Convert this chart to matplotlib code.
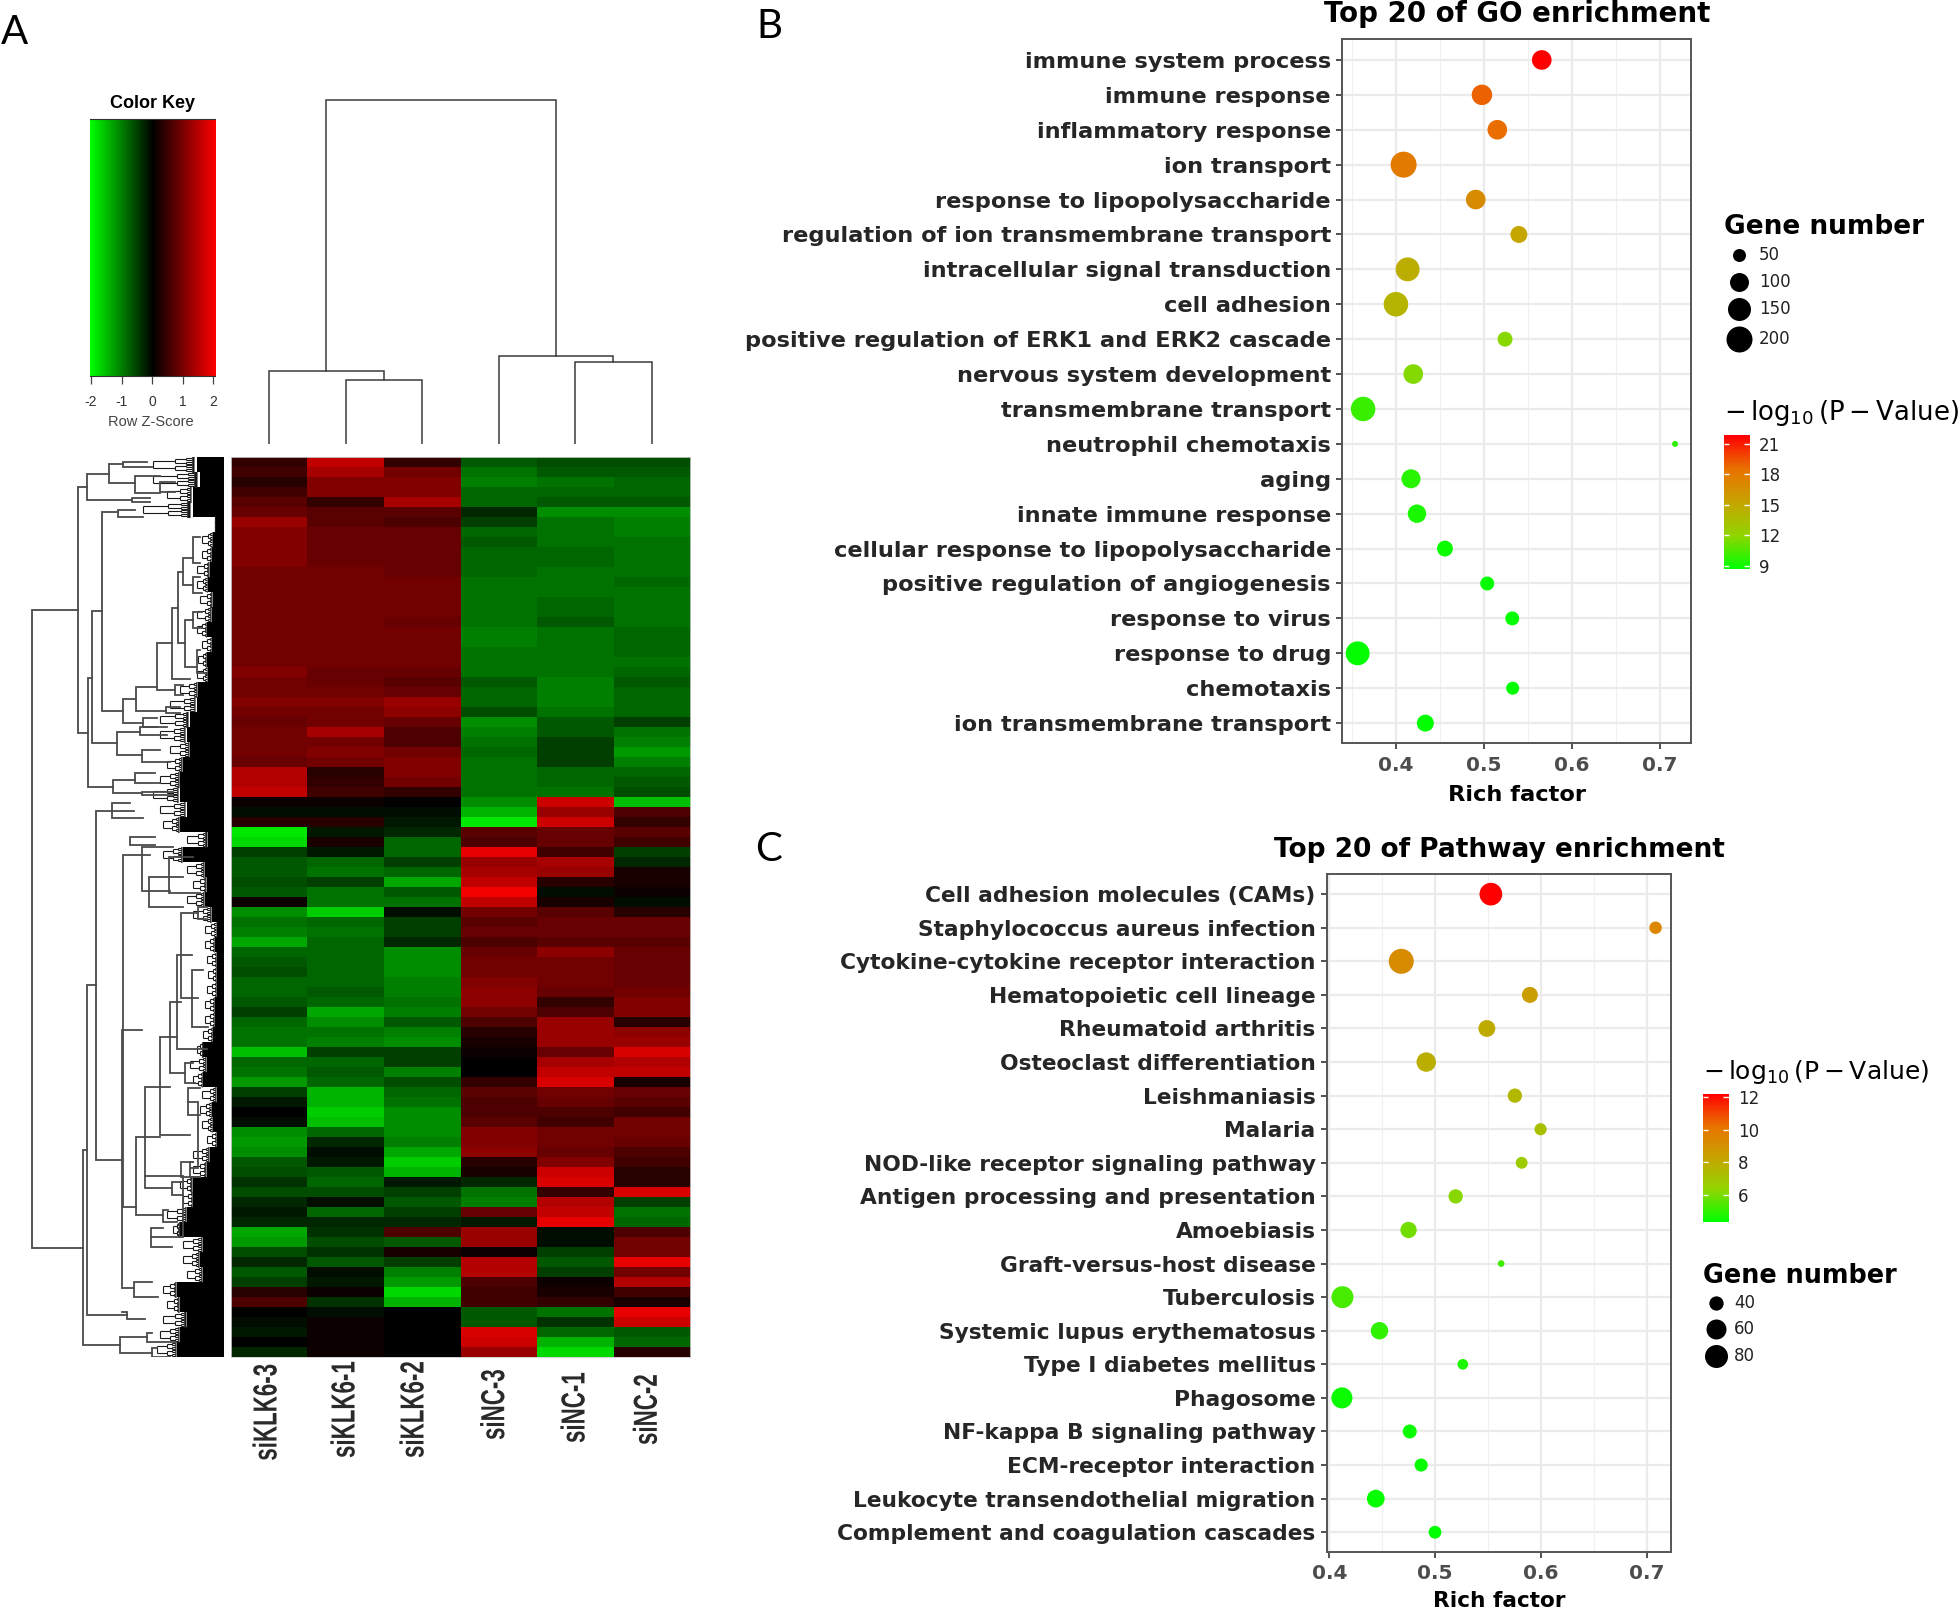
import numpy as np
import matplotlib
matplotlib.use('Agg')
import matplotlib.pyplot as plt
from matplotlib.colors import LinearSegmentedColormap, Normalize
from matplotlib.cm import ScalarMappable
from matplotlib.collections import LineCollection
from matplotlib.patheffects import AbstractPathEffect
from matplotlib.transforms import Affine2D

W, H = 1960, 1610

# heatmap, z-score x 10, one list per sample, 90 bands top to bottom
samples = ['siKLK6-3', 'siKLK6-1', 'siKLK6-2', 'siNC-3', 'siNC-1', 'siNC-2']
klk3 = [4,5,3,5,7,8,12,10,10,10,10,9,9,9,9,9,9,9,9,9,9,10,9,9,10,9,8,9,9,9,8,14,14,15,1,-1,3,-18,-17,-5,-7,-7,-6,-7,1,
        -11,-9,-10,-13,-8,-7,-6,-8,-8,-7,-5,-8,-9,-9,-15,-8,-9,-12,-5,-2,0,-1,-11,-12,-11,-7,-6,-4,-6,-3,-2,-3,-13,-12,-6,-3,-7,-5,3,6,0,-1,-2,0,-3]
klk1 = [15,13,10,10,4,7,7,8,8,8,8,9,9,9,9,9,9,9,9,9,9,8,8,9,10,9,9,13,9,10,9,3,4,5,1,-1,3,-2,2,-2,-8,-9,-5,-9,-9,
        -16,-8,-9,-8,-8,-8,-8,-8,-7,-8,-13,-11,-9,-10,-5,-8,-7,-8,-14,-14,-16,-15,-8,-3,-1,-2,-7,-8,-6,-1,-8,-3,-4,-6,-4,-7,-1,-2,1,-4,-1,1,1,1,1]
klk2 = [4,9,10,10,13,7,6,8,8,8,8,8,9,9,9,9,8,9,9,9,9,8,7,8,12,11,8,6,6,9,10,10,9,4,0,-1,-2,-3,-8,-8,-5,-8,-13,-7,-9,
        -1,-5,-5,-3,-11,-11,-11,-10,-10,-9,-10,-7,-10,-11,-5,-5,-10,-6,-8,-9,-11,-11,-11,-10,-13,-16,-14,-2,-5,-7,-5,-3,6,-7,2,-5,-10,-12,-17,-14,0,0,0,0,0]
nc3 = [-7,-9,-10,-8,-8,-3,-5,-8,-7,-8,-8,-8,-9,-9,-9,-9,-9,-10,-10,-9,-9,-9,-7,-8,-8,-6,-11,-10,-9,-8,-9,-9,-9,-9,-11,-14,-18,7,6,18,12,13,15,19,15,
       9,7,8,6,8,9,9,10,11,11,9,6,3,2,1,0,0,4,7,6,6,7,10,10,11,3,2,-3,-9,-10,8,-2,12,12,1,14,14,6,5,5,-7,-7,17,16,12]
nc1 = [-6,-7,-9,-8,-7,-11,-9,-9,-9,-8,-8,-9,-9,-9,-8,-8,-7,-9,-9,-9,-9,-9,-10,-10,-10,-9,-7,-7,-5,-5,-5,-8,-8,-9,16,12,16,8,8,5,13,12,3,-1,2,
       7,8,8,7,11,9,9,9,8,4,6,12,12,12,8,13,15,17,9,8,6,5,9,9,8,10,16,17,4,14,15,18,-1,-1,-5,-7,-5,1,2,4,-9,-4,-8,-14,-17]
nc2 = [-6,-7,-8,-8,-7,-11,-10,-10,-9,-9,-9,-9,-8,-9,-9,-9,-9,-8,-8,-8,-9,-8,-7,-8,-8,-8,-5,-9,-10,-12,-10,-8,-7,-6,-15,6,4,7,5,-5,-3,2,2,1,-1,
       3,8,8,7,8,8,8,8,9,10,10,3,11,12,17,14,15,2,8,7,5,9,9,8,6,5,3,3,17,-5,-9,-8,6,9,9,18,9,14,5,2,18,16,-7,-8,3]

# column dendrogram, merges (left, right, height), new ids start at 6
col_left = [1, 0, 4, 3, 7]
col_right = [2, 6, 5, 8, 9]
col_height = [64, 73, 82, 88, 344]

# row dendrogram, height / top row / bottom row / height of top child / height of bottom child
row_h = [191.7,145.7,140.7,137.3,135.7,132.3,110.7,121.7,107.3,100.7,88,66.7,51.7,45.7,40.7,39,31.3,31.3,31.3,27.3,115,100.7,89,64,92.3,106.3,84,82.3,89,82.3,49,58.3,80.7,
         136.7,104,128,97.3,112.3,102.3,100.7,94,82.3,74.7,54.7,40.7,88.3,79,64,54,46.7,43,32.3,25.7,43,35.7,34,39,52.3,61.3,73,90,77.3,72.3,25.7]
row_top = [153,30,693,17,221,154,323,55,275,242,230,186,151,115,101,163,80,120,155,193,7,5,19,25,41,53,270,293,316,335,228,250,261,
           528,880,354,855,346,573,398,380,390,420,400,719,680,630,580,545,498,456,513,645,705,631,705,606,725,753,771,825,876,891,450]
row_bot = [791,276,888,43,330,286,336,254,298,266,254,233,222,186,128,210,106,136,171,216,26,10,36,35,45,60,278,305,326,338,238,256,270,
           858,896,703,862,361,831,750,388,434,450,436,780,758,731,678,616,592,541,570,711,720,658,720,626,738,765,790,840,885,900,462]
row_ctop = [146,137,137,115,132,122,89,106,84,89,66.7,52,46,41,31,31,24,24,22,24,101,77,64,49,74,89,57,64,69,51,41,44,67,
            128,77,90,102,94,82,74,69,51,41,31,79,64,54,47,43,32,26,21,36,31,24,31,31,41,56,61,72,72,67,17]
row_cbot = [141,136,104,92,111,107,82,101,82,81,58,49,34,39,31,27,24,22,22,17,89,72,64,49,74,81,57,54,64,51,41,44,67,
            97,72,102,79,81,90,88,69,54,41,24,73,61,52,34,39,17,26,16,34,24,24,24,29,41,47,52,66,49,54,17]

# extent of the dense leaf mass in 15 row steps
leaf_black = [27,24,31,31,9,11,12,14,16,11,12,17,12,17,16,26,27,34,37,34,41,44,44,37,44,16,41,19,17,19,12,7,9,7,7,7,9,9,11,21,17,21,7,12,11,7,14,17,31,31,37,44,21,24,21,47,44,37,44,47]
leaf_grey = [71,71,57,81,9,22,22,27,27,24,27,27,22,26,27,44,54,64,64,54,57,64,71,64,61,37,61,37,31,37,31,19,19,17,16,17,19,19,21,27,34,31,22,24,22,17,31,31,44,41,57,51,41,41,37,61,57,61,64,67]

# GO panel
go_terms = ['immune system process', 'immune response', 'inflammatory response', 'ion transport',
            'response to lipopolysaccharide', 'regulation of ion transmembrane transport',
            'intracellular signal transduction', 'cell adhesion', 'positive regulation of ERK1 and ERK2 cascade',
            'nervous system development', 'transmembrane transport', 'neutrophil chemotaxis', 'aging',
            'innate immune response', 'cellular response to lipopolysaccharide',
            'positive regulation of angiogenesis', 'response to virus', 'response to drug', 'chemotaxis',
            'ion transmembrane transport']
go_rich = [0.566,0.498,0.5155,0.409,0.491,0.540,0.4136,0.4003,0.5243,0.420,0.363,0.7175,0.4174,0.4242,0.456,0.504,0.5325,0.3568,0.533,0.4337]
go_genes = [108,118,108,200,108,83,165,175,66,108,175,10,100,95,74,58,58,165,50,83]
go_logp = [21.83,19,18.7,18,16.9,15.2,14.6,14.2,11.8,11.7,10,9.8,9.6,9.3,9,8.8,8.8,8.8,8.7,8.7]
go_size_genes = [10, 50, 100, 150, 200]
go_size_px = [6, 13, 19, 23, 26]
go_legend_genes = [50, 100, 150, 200]
go_cbar_ticks = [9, 12, 15, 18, 21]
go_range = (8.7, 21.83)

# pathway panel
kegg_terms = ['Cell adhesion molecules (CAMs)', 'Staphylococcus aureus infection',
              'Cytokine-cytokine receptor interaction', 'Hematopoietic cell lineage', 'Rheumatoid arthritis',
              'Osteoclast differentiation', 'Leishmaniasis', 'Malaria', 'NOD-like receptor signaling pathway',
              'Antigen processing and presentation', 'Amoebiasis', 'Graft-versus-host disease', 'Tuberculosis',
              'Systemic lupus erythematosus', 'Type I diabetes mellitus', 'Phagosome', 'NF-kappa B signaling pathway',
              'ECM-receptor interaction', 'Leukocyte transendothelial migration', 'Complement and coagulation cascades']
kegg_rich = [0.5526,0.7083,0.4679,0.5895,0.5488,0.4915,0.5753,0.5996,0.5817,0.5193,0.4748,0.5623,0.4123,0.4473,0.5261,0.4118,0.4759,0.4867,0.4438,0.4998]
kegg_genes = [78,34,95,46,49,58,40,33,32,40,47,15,73,51,28,67,39,36,52,35]
kegg_logp = [12.19,9.4,9.2,8.5,8.0,7.8,7.5,7.2,6.7,6.2,5.9,5.2,5.3,5,4.7,4.5,4.45,4.4,4.4,4.35]
kegg_size_genes = [15, 40, 60, 80, 95]
kegg_size_px = [6.7, 14.3, 20, 23, 25]
kegg_legend_genes = [40, 60, 80]
kegg_cbar_ticks = [6, 8, 10, 12]
kegg_range = (4.33, 12.19)

rich_ticks = [0.4, 0.5, 0.6, 0.7]
rich_minor = [0.45, 0.55, 0.65]

heat_cmap = LinearSegmentedColormap.from_list('gkr', ['#00ff00', '#000000', '#ff0000'])
enrich_cmap = LinearSegmentedColormap.from_list('gr', ['#00ff00', '#91d500', '#c6a400', '#e97200', '#ff0000'])

NARROW = ['Liberation Sans Narrow', 'Liberation Sans', 'DejaVu Sans']
fig = plt.figure(figsize=(W / 100, H / 100), dpi=100, facecolor='white')


class Squeeze(AbstractPathEffect):
    # condensed look for the sample names, the text stays text
    def __init__(self, sx):
        super().__init__()
        self.sx = sx

    def draw_path(self, renderer, gc, tpath, affine, rgbFace=None):
        renderer.draw_path(gc, tpath, Affine2D().scale(self.sx, 1) + affine, rgbFace)


def add_ax(x0, y0, x1, y1):
    return fig.add_axes([x0 / W, 1 - y1 / H, (x1 - x0) / W, (y1 - y0) / H])


def txt(x, y, s, **kw):
    kw.setdefault('va', 'center')
    kw.setdefault('ha', 'left')
    return fig.text(x / W, 1 - y / H, s, **kw)


def px_area(d):
    return (np.asarray(d) * 0.72) ** 2


def leaf_brackets(r0, r1, h0, h1, depth, out):
    # dense tips of the row tree, split between the two read extents
    mid = (r0 + r1) / 2
    top = r0 + (r1 - r0) / 4
    bot = r1 - (r1 - r0) / 4
    next_h = h0 + (h1 - h0) / 2
    out.append([(h0, top), (h0, bot)])
    out.append([(h0, top), (next_h, top)])
    out.append([(h0, bot), (next_h, bot)])
    if depth > 1:
        leaf_brackets(r0, mid, next_h, h1, depth - 1, out)
        leaf_brackets(mid, r1, next_h, h1, depth - 1, out)


# ---- panel A ----
heat = add_ax(230.7, 457, 690, 1357)
matrix = np.array([klk3, klk1, klk2, nc3, nc1, nc2]).T
heat.imshow(matrix, cmap=heat_cmap, vmin=-20, vmax=20, aspect='auto', interpolation='nearest')
heat.set_xticks([])
heat.set_yticks([])
for s in heat.spines.values():
    s.set_color('#cccccc')
    s.set_linewidth(0.6)

label_x = [268, 346, 415, 495.7, 576, 648.3]
label_bottom = [1460.7, 1458, 1458, 1440, 1443, 1445]
for name, lx, lb in zip(samples, label_x, label_bottom):
    t = txt(lx, lb, name, rotation=90, ha='center', va='bottom', fontsize=24, family=NARROW, weight='bold', color='#2a2a2a')
    t.set_path_effects([Squeeze(0.67)])

# column dendrogram
cd = add_ax(230.7, 95, 690, 444)
cd.set_xlim(-0.5, 5.5)
cd.set_ylim(0, 349)
cd.axis('off')
node_pos = {i: (float(i), 0.0) for i in range(6)}
for k, (a, b, h) in enumerate(zip(col_left, col_right, col_height)):
    xa, ha = node_pos[a]
    xb, hb = node_pos[b]
    cd.plot([xa, xa, xb, xb], [ha, h, h, hb], color='#3a3a3a', lw=1.1, solid_joinstyle='miter')
    node_pos[6 + k] = ((xa + xb) / 2, h)

# row dendrogram
rd = add_ax(20, 457, 224, 1357)
rd.set_xlim(204, 0)
rd.set_ylim(900, 0)
rd.axis('off')
edges = np.arange(0, 915, 15)
rd.fill_betweenx(edges, np.r_[leaf_black, leaf_black[-1]], 0, step='post', color='black', lw=0)
twigs = []
for i, (g, b) in enumerate(zip(leaf_grey, leaf_black)):
    leaf_brackets(edges[i], edges[i + 1], g, b, 4, twigs)
rd.add_collection(LineCollection(twigs, colors='#1a1a1a', linewidths=0.8))
for h, t, b, ct, cb in zip(row_h, row_top, row_bot, row_ctop, row_cbot):
    rd.plot([ct, h, h, cb], [t, t, b, b], color='#4a4a4a', lw=1.3, solid_joinstyle='miter')

# colour key
key = add_ax(89.5, 118.6, 215, 375.7)
key.imshow(np.linspace(-2, 2, 256)[None, :], cmap=heat_cmap, aspect='auto', extent=(-2.05, 2.05, 0, 1))
key.set_yticks([])
key.set_xticks([-2, -1, 0, 1, 2])
key.set_xticklabels(['-2', '-1', '0', '1', '2'], family=NARROW, fontsize=10, color='#333333')
key.tick_params(axis='x', length=6, width=0.9, pad=8, color='#444444')
for side in ['left', 'right']:
    key.spines[side].set_visible(False)
key.spines['top'].set_color('#333333')
key.spines['bottom'].set_color('#333333')
txt(152, 103.6, 'Color Key', ha='center', fontsize=13, family=NARROW, weight='bold')
txt(151, 422, 'Row Z-Score', ha='center', fontsize=10.5, family=NARROW, color='#444444')


# ---- panels B, C ----
def enrich_panel(box, xlim, ylim, terms, rich, genes, logp, size_genes, size_px, vrange, label_size):
    ax = add_ax(*box)
    ypos = np.arange(len(terms))
    ax.set_yticks(ypos)
    ax.set_yticklabels(terms, fontsize=label_size, weight='bold', color='#262626')
    ax.set_xticks(rich_ticks)
    ax.set_xticklabels([f'{t:.1f}' for t in rich_ticks], fontsize=14.5, weight='bold', color='#4d4d4d')
    ax.set_xticks(rich_minor + [0.35], minor=True)
    ax.tick_params(axis='both', which='major', length=4, width=1.2, color='#333333')
    ax.tick_params(axis='x', which='major', pad=5)
    ax.tick_params(axis='y', which='major', pad=4)
    ax.tick_params(axis='x', which='minor', length=0)
    ax.grid(True, which='major', color='#ebebeb', lw=1.6)
    ax.grid(True, which='minor', axis='x', color='#f0f0f0', lw=0.9)
    ax.set_axisbelow(True)
    sizes = np.interp(genes, size_genes, size_px)
    ax.scatter(rich, ypos, s=px_area(sizes), c=logp, cmap=enrich_cmap, vmin=vrange[0], vmax=vrange[1],
               linewidths=0, zorder=3, clip_on=False)
    # ticks can widen the view, so the limits come last
    ax.set_xlim(*xlim)
    ax.set_ylim(*ylim)
    for s in ax.spines.values():
        s.set_color('#555555')
        s.set_linewidth(1.4)
    return ax


def cbar_legend(x, y0, y1, vrange, ticks):
    cax = add_ax(x, y0, x + 25.5, y1)
    sm = ScalarMappable(norm=Normalize(*vrange), cmap=enrich_cmap)
    cb = fig.colorbar(sm, cax=cax)
    cb.outline.set_visible(False)
    cb.set_ticks(ticks)
    cb.ax.tick_params(length=0, labelsize=12, pad=7, labelcolor='#222222')
    cax.hlines(ticks, 0, 0.2, color='white', lw=1, transform=cax.get_yaxis_transform())
    cax.hlines(ticks, 0.8, 1, color='white', lw=1, transform=cax.get_yaxis_transform())


enrich_panel((1342, 39, 1691, 743), (0.339, 0.7356), (19.57, -0.6), go_terms, go_rich, go_genes, go_logp,
             go_size_genes, go_size_px, go_range, 16.2)
enrich_panel((1326.7, 874, 1671, 1551.7), (0.3974, 0.7229), (19.58, -0.6), kegg_terms, kegg_rich, kegg_genes, kegg_logp,
             kegg_size_genes, kegg_size_px, kegg_range, 15.7)

txt(1517, 14, 'Top 20 of GO enrichment', ha='center', fontsize=19.9, weight='bold')
txt(1499, 850, 'Top 20 of Pathway enrichment', ha='center', fontsize=19, weight='bold')
txt(1517, 795, 'Rich factor', ha='center', fontsize=16.2, weight='bold')
txt(1499, 1601, 'Rich factor', ha='center', fontsize=15.6, weight='bold')

LOGP_TITLE = r'$-\,\log_{10}(\mathrm{P}-\mathrm{Value})$'

# GO legends
txt(1724, 227, 'Gene number', fontsize=19, weight='bold')
leg = add_ax(0, 0, W, H)
leg.set_xlim(0, W)
leg.set_ylim(H, 0)
leg.axis('off')
leg.patch.set_alpha(0)
for g, ly in zip(go_legend_genes, [255, 282, 309, 339]):
    leg.scatter(1739, ly, s=px_area(np.interp(g, go_size_genes, go_size_px)), color='black', linewidths=0)
    txt(1759, ly, str(g), fontsize=12, color='#222222')
txt(1724, 413, LOGP_TITLE, fontsize=18.7)
cbar_legend(1724, 435.5, 569, go_range, go_cbar_ticks)

# pathway legends
txt(1703, 1072, LOGP_TITLE, fontsize=18)
cbar_legend(1703, 1093.8, 1222, kegg_range, kegg_cbar_ticks)
txt(1703, 1276, 'Gene number', fontsize=18.4, weight='bold')
for g, ly in zip(kegg_legend_genes, [1303, 1329, 1356]):
    leg.scatter(1716, ly, s=px_area(np.interp(g, kegg_size_genes, kegg_size_px)), color='black', linewidths=0)
    txt(1734, ly, str(g), fontsize=12, color='#222222')

# panel letters
txt(1, 32, 'A', fontsize=29, family='Lato')
txt(756, 27, 'B', fontsize=29, family='Lato')
txt(755, 849, 'C', fontsize=29, family='Lato')

fig.savefig('out.png', dpi=100)
